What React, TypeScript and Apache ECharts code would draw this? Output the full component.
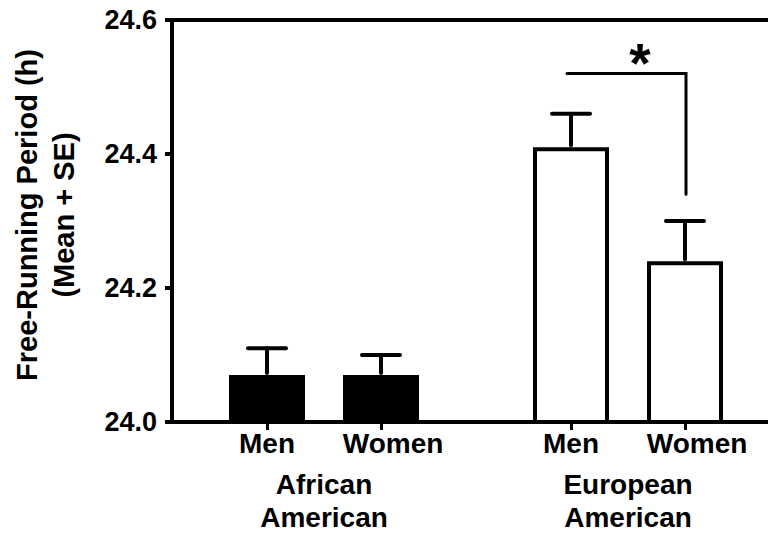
import React, { useEffect, useRef } from "react";
import * as echarts from "echarts";

const slotCount = 16;
const barSlots = [2, 5, 10, 13];
const barLabels = ["Men", "Women", "Men", "Women"];
const barMeans = [24.07, 24.07, 24.41, 24.24];
const barUpper = [24.11, 24.1, 24.46, 24.3];
const barFills = ["#000000", "#000000", "#ffffff", "#ffffff"];
const groupLabels = ["African\nAmerican", "European\nAmerican"];
const yMin = 24.0;
const yMax = 24.6;
const yStep = 0.2;
const sigFrom = [10];
const sigTo = [13];
const sigTop = [24.52];
const sigBottom = [24.34];
const sigMark = "*";
const yTitle = "Free-Running Period (h)\n(Mean + SE)";

const FONT = "'Liberation Sans', Arial, Helvetica, sans-serif";

export default function App() {
  const ref = useRef<HTMLDivElement>(null);
  useEffect(() => {
    document.body.style.margin = "0";
    const chart = echarts.init(ref.current!, undefined, { renderer: "svg" });
    const slotLabels = Array.from({ length: slotCount }, (_, i) => {
      const k = barSlots.indexOf(i);
      return k >= 0 ? barLabels[k] : "";
    });
    const barData = barSlots.map((s, i) => ({
      value: [s, barMeans[i]],
      itemStyle: { color: barFills[i], borderColor: "#000", borderWidth: 4 },
    }));
    const errData = barSlots.map((s, i) => [s, barMeans[i], barUpper[i]]);
    const sigData = sigFrom.map((f, i) => [f, sigTo[i], sigTop[i], sigBottom[i]]);
    const labelStyle = { color: "#000", fontSize: 28, fontWeight: "bold", fontFamily: FONT };

    chart.setOption({
      animation: false,
      grid: { left: 172, right: 0, top: 20, bottom: 116, containLabel: false },
      xAxis: [
        {
          type: "category",
          position: "bottom",
          data: slotLabels,
          axisLine: { show: true, lineStyle: { color: "#000", width: 4 } },
          axisTick: {
            show: true,
            alignWithLabel: true,
            interval: (i: number) => barSlots.indexOf(i) >= 0,
            length: 8,
            lineStyle: { color: "#000", width: 3 },
          },
          axisLabel: {
            interval: 0,
            ...labelStyle,
            margin: 7,
            formatter: (v: string) => (v === "Women" ? "{w|" + v + "}" : v),
            rich: { w: { ...labelStyle, padding: [0, 0, 0, 24] } },
          },
          splitLine: { show: false },
        },
        {
          type: "category",
          position: "bottom",
          data: groupLabels,
          axisLine: { show: false },
          axisTick: { show: false },
          axisLabel: {
            interval: 0,
            ...labelStyle,
            lineHeight: 33,
            margin: 46,
          },
          splitLine: { show: false },
        },
        {
          type: "category",
          position: "top",
          data: slotLabels,
          axisLine: { show: true, lineStyle: { color: "#000", width: 4 } },
          axisTick: { show: false },
          axisLabel: { show: false },
          splitLine: { show: false },
        },
      ],
      yAxis: {
        type: "value",
        min: yMin,
        max: yMax,
        interval: yStep,
        axisLine: { show: true, lineStyle: { color: "#000", width: 4 } },
        axisTick: { show: true, length: 7, lineStyle: { color: "#000", width: 4 } },
        axisLabel: {
          formatter: (v: number) => v.toFixed(1),
          color: "#000",
          fontSize: 27,
          fontWeight: "bold",
          fontFamily: FONT,
          margin: 15,
        },
        splitLine: { show: false },
      },
      series: [
        {
          type: "bar",
          xAxisIndex: 0,
          barWidth: 76,
          data: barData,
          clip: true,
        },
        {
          type: "custom",
          xAxisIndex: 0,
          data: errData,
          renderItem: (params: any, api: any) => {
            const p0 = api.coord([api.value(0), api.value(1)]);
            const p1 = api.coord([api.value(0), api.value(2)]);
            const style = { stroke: "#000", lineWidth: 4, lineCap: "round" };
            return {
              type: "group",
              children: [
                { type: "line", shape: { x1: p0[0], y1: p0[1] - 2, x2: p1[0], y2: p1[1] }, style },
                { type: "line", shape: { x1: p1[0] - 19, y1: p1[1], x2: p1[0] + 19, y2: p1[1] }, style },
              ],
            };
          },
        },
        {
          type: "custom",
          xAxisIndex: 0,
          data: sigData,
          renderItem: (params: any, api: any) => {
            const a = api.coord([api.value(0), api.value(2)]);
            const b = api.coord([api.value(1), api.value(2)]);
            const c = api.coord([api.value(1), api.value(3)]);
            const style = { stroke: "#000", lineWidth: 3, lineCap: "round", lineJoin: "miter" };
            return {
              type: "group",
              children: [
                {
                  type: "polyline",
                  shape: { points: [[a[0] - 4, a[1]], [b[0] + 1, b[1]], [c[0] + 1, c[1]]] },
                  style: { ...style, fill: null },
                },
                {
                  type: "text",
                  x: (a[0] + b[0]) / 2 + 12,
                  y: a[1] + 17,
                  style: {
                    text: sigMark,
                    fill: "#000",
                    fontSize: 55,
                    fontWeight: "bold",
                    fontFamily: FONT,
                    align: "center",
                    verticalAlign: "bottom",
                  },
                },
              ],
            };
          },
        },
      ],
      graphic: [
        {
          type: "text",
          x: 45,
          y: 215,
          rotation: Math.PI / 2,
          style: {
            text: yTitle,
            fill: "#000",
            fontSize: 29,
            fontWeight: "bold",
            fontFamily: FONT,
            align: "center",
            verticalAlign: "middle",
            lineHeight: 37,
          },
        },
      ],
    });
    return () => chart.dispose();
  }, []);
  return (
    <div style={{ width: 768, height: 538, overflow: "hidden", position: "relative" }}>
      <div ref={ref} style={{ width: 780, height: 538 }} />
    </div>
  );
}
